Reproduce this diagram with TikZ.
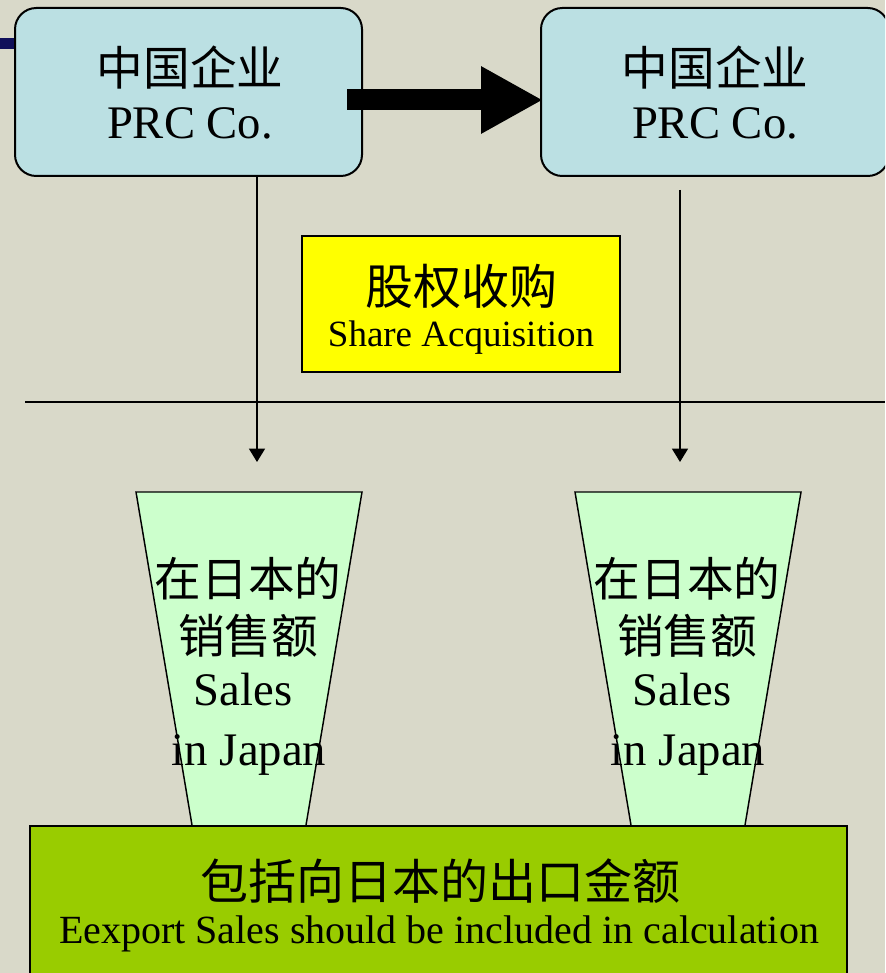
\documentclass[tikz,border=0pt]{standalone}
\usepackage{fontspec}
\setmainfont{Liberation Serif}
\newfontfamily\cjk{Noto Sans CJK SC}
\usetikzlibrary{arrows.meta}
\definecolor{bgcol}{RGB}{217,217,201}
\definecolor{navybar}{RGB}{16,16,90}
\definecolor{cobox}{RGB}{187,224,227}
\definecolor{lightgreen}{RGB}{204,255,204}
\definecolor{olivegreen}{RGB}{153,204,0}
\definecolor{yel}{RGB}{255,255,0}
\begin{document}
\begin{tikzpicture}[x=0.75pt,y=-0.75pt,
  cobox/.style={draw=black, line width=1.5pt, fill=cobox, rounded corners=16pt,
     minimum height=126pt, inner sep=0pt},
  txt/.style={anchor=base, inner sep=0pt},
  big/.style={txt, font=\fontsize{35}{35}\selectfont},
  bigcjk/.style={txt, font=\fontsize{35}{35}\selectfont\cjk},
  thin/.style={line width=0.9pt, -{Triangle[length=10pt,width=12pt]}},
  trap/.style={draw=black, line width=1.1pt, fill=lightgreen},
]
\useasboundingbox (0,0) rectangle (885,973);
\clip (0,0) rectangle (885,973);
\fill[bgcol] (0,0) rectangle (885,973);
\fill[navybar] (0,38) rectangle (20,49);

% company boxes
\node[cobox, minimum width=260.25pt] (lbox) at (188.5,92) {};
\node[cobox, minimum width=261pt] (rbox) at (715,92) {};
\node[bigcjk] (l1) at (190,86) {中国企业};
\node[big] (l2) at (190,139) {PRC Co.};
\node[bigcjk] (r1) at (715,86) {中国企业};
\node[big] (r2) at (715,139) {PRC Co.};

% thick arrow
\coordinate (ta1) at (347,100);
\coordinate (ta2) at (543,100);
\draw[line width=15.75pt, -{Triangle[length=46.5pt,width=47.25pt]}] (ta1) -- (ta2);

% share acquisition box
\node[draw=black, line width=1.1pt, fill=yel, minimum width=238.5pt, minimum height=102pt, inner sep=0pt] (sa) at (461,304) {};
\node[txt, font=\fontsize{36}{36}\selectfont\cjk] (sa1) at (461,305) {股权收购};
\node[txt, font=\fontsize{27.75}{27.75}\selectfont] (sa2) at (461,346) {Share Acquisition};

% horizontal line
\coordinate (hl1) at (25,402);
\coordinate (hl2) at (885,402);
\draw[line width=1.1pt] (hl1) -- (hl2);

% vertical arrows
\coordinate (va1) at (257,176);
\coordinate (va2) at (257,462);
\coordinate (vb1) at (680,190);
\coordinate (vb2) at (680,462);
\draw[thin] (va1) -- (va2);
\draw[thin] (vb1) -- (vb2);

% trapezoids
\draw[trap] (136,492) coordinate (lt1) -- (362,492) coordinate (lt2) -- (303.5,840) coordinate (lt3) -- (194.5,840) coordinate (lt4) -- cycle;
\draw[trap] (575,492) coordinate (rt1) -- (801,492) coordinate (rt2) -- (742.5,840) coordinate (rt3) -- (633.5,840) coordinate (rt4) -- cycle;
\node[bigcjk] (lt-a) at (248,596) {在日本的};
\node[bigcjk] (lt-b) at (248,653) {销售额};
\node[big] (lt-c) at (243,705) {Sales};
\node[big] (lt-d) at (249,765) {in Japan};
\node[bigcjk] (rt-a) at (687,596) {在日本的};
\node[bigcjk] (rt-b) at (687,653) {销售额};
\node[big] (rt-c) at (682,705) {Sales};
\node[big] (rt-d) at (688,765) {in Japan};

% export box
\node[draw=black, line width=1.1pt, fill=olivegreen, minimum width=612.75pt, minimum height=126pt, inner sep=0pt] (ex) at (438.5,910) {};
\node[txt, font=\fontsize{36}{36}\selectfont\cjk] (ex1) at (440,899) {包括向日本的出口金额};
\node[txt, font=\fontsize{30}{30}\selectfont] (ex2) at (439,943) {Eexport Sales should be included in calculation};
\end{tikzpicture}
\end{document}
